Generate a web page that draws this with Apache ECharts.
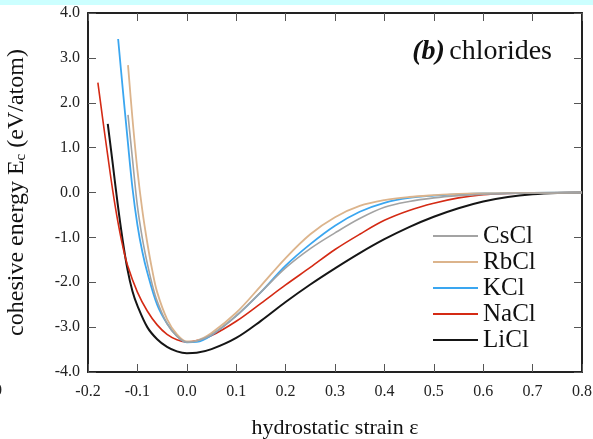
<!DOCTYPE html>
<html>
<head>
<meta charset="utf-8">
<script src="https://cdn.jsdelivr.net/npm/echarts@6/dist/echarts.min.js"></script>
<style>html,body{margin:0;padding:0;background:#fff;}#c{width:593px;height:439px;}</style>
</head>
<body>
<div id="c"></div>
<script>
// Data: [strain, cohesive energy (eV/atom)]
const seriesNames = ['CsCl', 'RbCl', 'KCl', 'NaCl', 'LiCl'];
const xTicks = ['-0.2','-0.1','0.0','0.1','0.2','0.3','0.4','0.5','0.6','0.7','0.8'];
const yTicks = ['-4.0','-3.0','-2.0','-1.0','0.0','1.0','2.0','3.0','4.0'];

const CsCl = [[-0.119,1.73],[-0.11,0.75],[-0.10,-0.30],[-0.09,-1.02],[-0.08,-1.58],[-0.07,-2.05],[-0.06,-2.42],[-0.04,-2.92],[-0.02,-3.20],[0,-3.33],[0.02,-3.31],[0.05,-3.17],[0.10,-2.75],[0.15,-2.22],[0.20,-1.68],[0.25,-1.25],[0.30,-0.90],[0.35,-0.58],[0.40,-0.33],[0.45,-0.20],[0.50,-0.12],[0.55,-0.07],[0.60,-0.04],[0.65,-0.02],[0.70,-0.01],[0.80,0]];
const RbCl = [[-0.119,2.84],[-0.11,1.65],[-0.10,0.50],[-0.09,-0.40],[-0.08,-1.12],[-0.07,-1.73],[-0.06,-2.22],[-0.04,-2.82],[-0.02,-3.16],[0,-3.32],[0.02,-3.30],[0.05,-3.13],[0.10,-2.68],[0.15,-2.08],[0.20,-1.46],[0.25,-0.93],[0.30,-0.55],[0.35,-0.30],[0.40,-0.17],[0.45,-0.10],[0.50,-0.06],[0.55,-0.03],[0.60,-0.02],[0.70,-0.01],[0.80,0]];
const KCl = [[-0.139,3.42],[-0.13,2.35],[-0.12,1.20],[-0.11,0.10],[-0.10,-0.72],[-0.09,-1.32],[-0.08,-1.78],[-0.06,-2.50],[-0.04,-2.92],[-0.02,-3.20],[0,-3.34],[0.02,-3.33],[0.05,-3.18],[0.10,-2.75],[0.15,-2.22],[0.20,-1.63],[0.25,-1.15],[0.30,-0.74],[0.35,-0.43],[0.40,-0.23],[0.45,-0.12],[0.50,-0.07],[0.55,-0.04],[0.60,-0.02],[0.70,-0.01],[0.80,0]];
const NaCl = [[-0.18,2.45],[-0.17,1.62],[-0.16,0.82],[-0.15,0.05],[-0.14,-0.62],[-0.13,-1.18],[-0.12,-1.62],[-0.10,-2.22],[-0.08,-2.64],[-0.06,-2.95],[-0.04,-3.16],[-0.02,-3.28],[0,-3.33],[0.02,-3.30],[0.05,-3.19],[0.10,-2.87],[0.15,-2.47],[0.20,-2.06],[0.25,-1.67],[0.30,-1.27],[0.35,-0.93],[0.40,-0.62],[0.45,-0.40],[0.50,-0.24],[0.55,-0.12],[0.60,-0.05],[0.65,-0.02],[0.70,-0.01],[0.80,0]];
const LiCl = [[-0.16,1.53],[-0.15,0.65],[-0.14,-0.25],[-0.13,-1.05],[-0.12,-1.72],[-0.11,-2.20],[-0.10,-2.52],[-0.08,-3.00],[-0.06,-3.27],[-0.04,-3.44],[-0.02,-3.54],[0,-3.58],[0.02,-3.57],[0.05,-3.49],[0.10,-3.24],[0.15,-2.86],[0.20,-2.44],[0.25,-2.05],[0.30,-1.69],[0.35,-1.35],[0.40,-1.04],[0.45,-0.77],[0.50,-0.54],[0.55,-0.35],[0.60,-0.20],[0.65,-0.10],[0.70,-0.04],[0.75,-0.01],[0.80,0]];

const seriesData = [CsCl, RbCl, KCl, NaCl, LiCl];
const colors = ['#a3a3a3', '#dcb48c', '#3aa6f0', '#d42a14', '#151515'];
const widths = [1.6, 1.8, 1.8, 1.6, 2.0];

const serif = '"Liberation Serif", "DejaVu Serif", serif';
const chart = echarts.init(document.getElementById('c'), null, {renderer: 'canvas'});

const fmt = v => (Math.abs(v) < 1e-9 ? 0 : v).toFixed(1);

const axisCommon = {
  axisLine: {show: true, onZero: false, lineStyle: {color: '#222', width: 2}},
  axisTick: {show: true, inside: true, length: 8, lineStyle: {color: '#555', width: 1}},
  splitLine: {show: false}
};

chart.setOption({
  animation: false,
  backgroundColor: '#ffffff',
  textStyle: {fontFamily: serif},
  title: {
    text: '{b|(b)} {n|chlorides}',
    right: 36, top: 33,
    textStyle: {
      rich: {
        b: {fontFamily: serif, fontSize: 28, fontWeight: 'bold', fontStyle: 'italic', color: '#111'},
        n: {fontFamily: serif, fontSize: 28, fontWeight: 'normal', color: '#111'}
      }
    }
  },
  legend: {
    orient: 'vertical',
    left: 433, top: 223,
    padding: 0,
    itemWidth: 45, itemHeight: 2, itemGap: 0,
    data: seriesNames.map(n => ({name: n, icon: 'rect'})),
    textStyle: {fontFamily: serif, fontSize: 25, color: '#111', lineHeight: 26, padding: [0, 0, 0, 0]},
    selectedMode: false
  },
  grid: {left: 88, right: 11, top: 13, bottom: 67, show: false, containLabel: false, outerBoundsMode: 'none'},
  graphic: [
    {type: 'rect', shape: {x: 0, y: 0, width: 593, height: 5}, style: {fill: '#ccffff'}, z: 100},
    {type: 'text', left: -6, top: 383, style: {text: '0', font: '16px "Liberation Serif"', fill: '#222'}}
  ],
  xAxis: [
    Object.assign({}, axisCommon, {
      type: 'value', min: -0.2, max: 0.8, interval: 0.1, position: 'bottom',
      axisLabel: {formatter: v => fmt(v), fontFamily: serif, fontSize: 16, color: '#222', margin: 12},
      name: 'hydrostatic strain ε', nameLocation: 'middle', nameGap: 45,
      nameTextStyle: {fontFamily: serif, fontSize: 22, color: '#111'}
    }),
    Object.assign({}, axisCommon, {
      type: 'value', min: -0.2, max: 0.8, interval: 0.1, position: 'top',
      axisLabel: {show: false}
    })
  ],
  yAxis: [
    Object.assign({}, axisCommon, {
      type: 'value', min: -4, max: 4, interval: 1, position: 'left',
      axisLabel: {formatter: v => fmt(v), fontFamily: serif, fontSize: 16, color: '#222', margin: 8},
      name: '{a|cohesive energy E}{s|c}{a| (eV/atom)}', nameLocation: 'middle', nameGap: 59, nameRotate: 90,
      nameTextStyle: {
        fontFamily: serif, fontSize: 24, color: '#111',
        rich: {
          a: {fontFamily: serif, fontSize: 24, color: '#111', lineHeight: 28, verticalAlign: 'bottom'},
          s: {fontFamily: serif, fontSize: 15, color: '#111', lineHeight: 28, verticalAlign: 'bottom', padding: [8, 0, 0, 0]}
        }
      }
    }),
    Object.assign({}, axisCommon, {
      type: 'value', min: -4, max: 4, interval: 1, position: 'right',
      axisLabel: {show: false}
    })
  ],
  series: seriesNames.map((name, i) => ({
    name: name,
    type: 'line',
    xAxisIndex: 0, yAxisIndex: 0,
    data: seriesData[i],
    smooth: 0.35,
    symbol: 'none',
    color: colors[i],
    lineStyle: {color: colors[i], width: widths[i]},
    z: 10 - i
  }))
});
</script>
</body>
</html>
